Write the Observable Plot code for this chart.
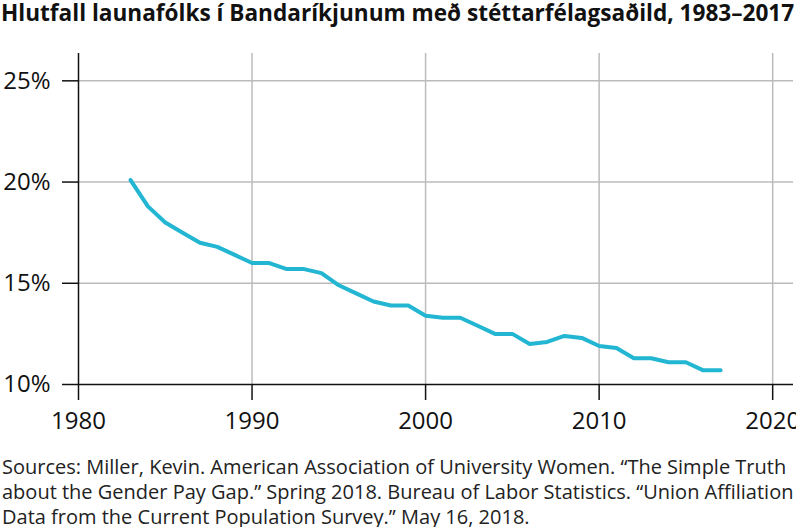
<!DOCTYPE html>
<html><head><meta charset="utf-8">
<script src="https://cdn.jsdelivr.net/npm/d3@7"></script>
<script src="https://cdn.jsdelivr.net/npm/@observablehq/plot@0.6"></script>
<style>
body{margin:0;background:#fff;font-family:"Open Sans",sans-serif;overflow:hidden;width:796px;}
#title{font-weight:700;font-size:22.6px;white-space:nowrap;height:40px;line-height:26px;padding-left:1px;color:#111;}
#cap{font-size:20px;line-height:25px;padding-left:2px;color:#222;white-space:nowrap;margin-top:14px;}
</style></head>
<body>
<div id="title">Hlutfall launafólks í Bandaríkjunum með stéttarfélagsaðild, 1983–2017</div>
<div id="chart"></div>
<div id="cap">Sources: Miller, Kevin. American Association of University Women. “The Simple Truth<br>about the Gender Pay Gap.” Spring 2018. Bureau of Labor Statistics. “Union Affiliation<br>Data from the Current Population Survey.” May 16, 2018.</div>
<script>
const years = [1983,1984,1985,1986,1987,1988,1989,1990,1991,1992,1993,1994,1995,1996,1997,1998,1999,2000,2001,2002,2003,2004,2005,2006,2007,2008,2009,2010,2011,2012,2013,2014,2015,2016,2017];
const rates = [20.1,18.8,18.0,17.5,17.0,16.8,16.4,16.0,16.0,15.7,15.7,15.5,14.9,14.5,14.1,13.9,13.9,13.4,13.3,13.3,12.9,12.5,12.5,12.0,12.1,12.4,12.3,11.9,11.8,11.3,11.3,11.1,11.1,10.7,10.7];
const xTicks = [1980,1990,2000,2010,2020];
const yTicks = [10,15,20,25];
const data = years.map((y,i)=>({year:y, rate:rates[i]}));
const xMin = 1980, xMax = 2021.2, yMin = 10, yMax = 26.35;

const chart = Plot.plot({
  width: 796,
  height: 400,
  marginTop: 13,
  marginBottom: 56,
  marginLeft: 78,
  marginRight: 3,
  style: {fontFamily: "Open Sans", fontSize: "24px", color: "#111", background: "#fff"},
  x: {domain: [xMin, xMax], label: null},
  y: {domain: [yMin, yMax], label: null},
  marks: [
    Plot.ruleX(xTicks.filter(d => d > xMin), {y1: yMin, y2: yMax, stroke: "#bbb", strokeWidth: 1.5}),
    Plot.ruleY(yTicks.filter(d => d > yMin), {x1: xMin, x2: xMax, stroke: "#bbb", strokeWidth: 1.5}),
    Plot.axisX({ticks: xTicks, tickFormat: d3.format("d"), tickSize: 16, tickPadding: 11, strokeWidth: 1.5, stroke: "#111", fontSize: 24}),
    Plot.axisY({ticks: yTicks, tickFormat: d => d + "%", tickSize: 16, tickPadding: 12, strokeWidth: 1.5, stroke: "#111", fontSize: 24}),
    Plot.ruleX([xMin], {y1: yMin, y2: yMax, stroke: "#111", strokeWidth: 1.5}),
    Plot.ruleY([yMin], {x1: xMin, x2: xMax, stroke: "#111", strokeWidth: 1.5}),
    Plot.line(data, {x: "year", y: "rate", stroke: "#22b6d2", strokeWidth: 4, strokeLinejoin: "round", strokeLinecap: "round"})
  ]
});
document.getElementById("chart").appendChild(chart);
</script>
</body></html>
